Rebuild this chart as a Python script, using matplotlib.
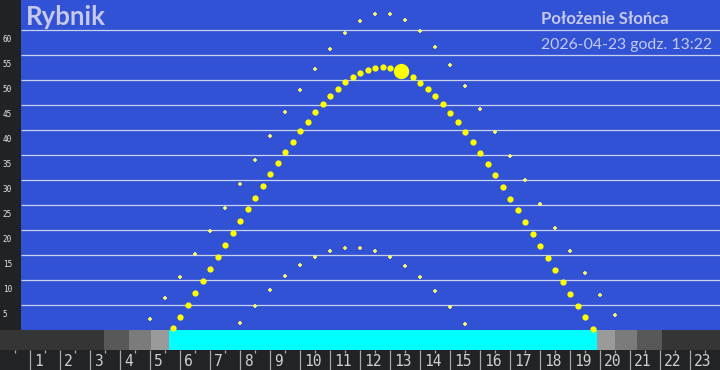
import numpy as np
import matplotlib
matplotlib.use("Agg")
from matplotlib import pyplot as plt

# sun altitude today, every 15 min from 5:45 to 19:45
today_start = 5.75
today_alt = [0.4, 2.6, 5.0, 7.4, 9.8, 12.2, 14.6, 17.0, 19.4, 21.8, 24.2, 26.4,
             28.8, 31.2, 33.4, 35.6, 37.6, 39.8, 41.6, 43.6, 45.2, 46.8, 48.2,
             49.6, 50.6, 51.4, 52.0, 52.4, 52.6, 52.4, 52.1, 51.5, 50.6, 49.4,
             48.2, 46.8, 45.2, 43.4, 41.6, 39.6, 37.6, 35.4, 33.2, 31.0, 28.6,
             26.2, 24.0, 21.6, 19.2, 16.8, 14.4, 12.0, 9.6, 7.2, 4.8, 2.6, 0.2]

# summer solstice, every 30 min from 5:00 to 20:30
summer_start = 5.0
summer_alt = [2.2, 6.4, 10.6, 15.2, 19.8, 24.4, 29.2, 34.0, 38.8, 43.6, 48.0,
              52.2, 56.2, 59.4, 61.8, 63.2, 63.2, 62.0, 59.8, 56.6, 53.0, 48.8,
              44.2, 39.6, 34.8, 30.0, 25.2, 20.4, 15.8, 11.4, 7.0, 3.0]

# winter solstice, every 30 min from 8:00 to 15:30
winter_start = 8.0
winter_alt = [1.4, 4.8, 8.0, 10.8, 13.0, 14.6, 15.8, 16.4, 16.4, 15.8, 14.6,
              12.8, 10.6, 7.8, 4.6, 1.2]

sun_time = 13 + 22 / 60
sun_alt = 51.8

# night / twilight / day band
band_edges = [0, 3.47, 4.3, 5.03, 5.63, 19.9, 20.5, 21.23, 22.07, 24]
band_colors = ["#353535", "#585858", "#7b7b7b", "#9a9a9a", "#00ffff",
               "#9a9a9a", "#7b7b7b", "#585858", "#353535"]

grid_levels = list(range(5, 65, 5))
hours = list(range(1, 24))

today_t = today_start + 0.25 * np.arange(len(today_alt))
summer_t = summer_start + 0.5 * np.arange(len(summer_alt))
winter_t = winter_start + 0.5 * np.arange(len(winter_alt))

fig = plt.figure(figsize=(7.2, 3.7), dpi=100)
ax = fig.add_axes([0, 0, 1, 1])
ax.set_xlim(0, 24)
ax.set_ylim(-8, 66)
ax.axis("off")

left = 0.7
ax.fill_between([left, 24], 0, 66, color="#3152d4", lw=0, zorder=0)
ax.fill_between([0, left], 0, 66, color="#202326", lw=0, zorder=0)
ax.fill_between([0, 24], -8, -4, color="#212325", lw=0, zorder=0)
ax.hlines(grid_levels, left, 24, color="#c9d0ec", lw=0.9, zorder=1)
for v in grid_levels:
    ax.text(0.09, v - 1.0, str(v), fontsize=5.5, family="DejaVu Sans Mono",
            color="#e6e6e6", va="top", ha="left")

ax.barh(-2, np.diff(band_edges), left=band_edges[:-1], height=4,
        color=band_colors, lw=0, zorder=1)

ax.vlines(hours, -8, -4, color="#a8a8a8", lw=0.9, zorder=2)
ax.vlines(np.arange(0.5, 24, 1), -4.6, -4, color="#a8a8a8", lw=0.9, zorder=2)
for h in hours:
    ax.text(h + 0.14, -6.3, str(h), fontsize=10.5, family="DejaVu Sans Mono",
            color="#d0d0d0", va="center", ha="left")

ax.plot(summer_t, summer_alt, "+", color="#ffff66", ms=3.4, mew=1.2, zorder=3)
ax.plot(winter_t, winter_alt, "+", color="#ffff66", ms=3.4, mew=1.2, zorder=3)
ax.plot(today_t, today_alt, "o", color="#ffff00", ms=4.5, mew=0, zorder=4)
ax.plot([sun_time], [sun_alt], "o", color="#ffff00", ms=11, mew=0, zorder=5)

ax.text(0.87, 61, "Rybnik", fontsize=18.5, family="Lato", weight="bold",
        color="#c6c9ea", va="baseline", ha="left")
ax.text(18.03, 61.1, "Położenie Słońca", fontsize=12, family="Lato",
        weight="bold", color="#c6c9ea", va="baseline", ha="left")
ax.text(18.03, 56.1, "2026-04-23 godz. 13:22", fontsize=11.4, family="Lato",
        color="#c6c9ea", va="baseline", ha="left")

fig.savefig("out.png", dpi=100)
